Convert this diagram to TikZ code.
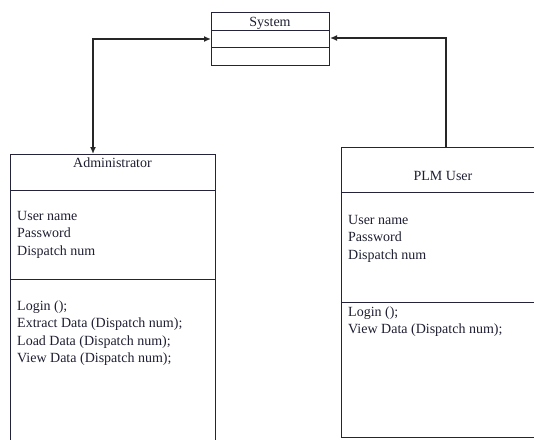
\documentclass[tikz,border=0pt]{standalone}
\usepackage{fontspec}
\setmainfont{Liberation Serif}
\usetikzlibrary{arrows.meta}
\definecolor{ink}{RGB}{35,35,60}
\definecolor{txt}{RGB}{30,30,50}
\tikzset{
  umlbox/.style={draw=ink, line width=1pt, anchor=north west, inner sep=0pt},
  divider/.style={draw=ink, line width=1pt},
  lbl/.style={anchor=base west, inner sep=0pt, text=txt, font=\fontsize{14}{17}\selectfont},
  ttl/.style={anchor=base, inner sep=0pt, text=txt, font=\fontsize{14}{17}\selectfont},
  link/.style={draw=black!85, line width=1.3pt},
  tip/.style={-{Latex[length=7pt,width=6pt]}}
}
\begin{document}
\begin{tikzpicture}[x=1pt,y=-1pt]
\useasboundingbox (0,0) rectangle (534,439);
% System
\node[umlbox, minimum width=118pt, minimum height=53pt] (sys) at (211,12) {};
\draw[divider] (211,30) -- (329,30);
\draw[divider] (211,47) -- (329,47);
\node[ttl] (systitle) at (270,26) {System};
% Administrator
\node[umlbox, minimum width=205pt, minimum height=300pt] (adm) at (10,154) {};
\draw[divider] (10,190) -- (215,190);
\draw[divider] (10,279) -- (215,279);
\node[ttl] (admtitle) at (112.5,167) {Administrator};
\node[lbl] (a1) at (17,220) {User name};
\node[lbl] (a2) at (17,237) {Password};
\node[lbl] (a3) at (17,255) {Dispatch num};
\node[lbl] (m1) at (17,310) {Login ();};
\node[lbl] (m2) at (17,327.5) {Extract Data (Dispatch num);};
\node[lbl] (m3) at (17,345) {Load Data (Dispatch num);};
\node[lbl] (m4) at (17,362.5) {View Data (Dispatch num);};
% PLM User
\node[umlbox, minimum width=210pt, minimum height=290pt] (plm) at (341,147) {};
\draw[divider] (341,192) -- (551,192);
\draw[divider] (341,302) -- (551,302);
\node[ttl] (plmtitle) at (443,180) {PLM User};
\node[lbl] (p1) at (348,224) {User name};
\node[lbl] (p2) at (348,241.5) {Password};
\node[lbl] (p3) at (348,259) {Dispatch num};
\node[lbl] (q1) at (348,316) {Login ();};
\node[lbl] (q2) at (348,333) {View Data (Dispatch num);};
% connectors
\coordinate (cl) at (93,39);
\coordinate (cr) at (446,38);
\draw[link, {Latex[length=7pt,width=6pt]}-{Latex[length=7pt,width=6pt]}] (adm.north -| cl) -- (cl) -- (sys.west |- cl);
\draw[link, tip] (plm.north -| cr) -- (cr) -- (sys.east |- cr);
\end{tikzpicture}
\end{document}
